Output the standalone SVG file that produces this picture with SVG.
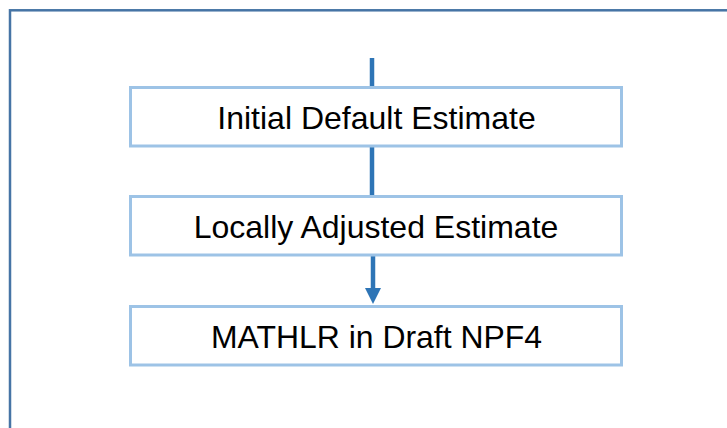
<svg xmlns="http://www.w3.org/2000/svg" width="727" height="428" viewBox="0 0 727 428">
  <defs>
    <marker id="arrow" markerUnits="userSpaceOnUse" markerWidth="16" markerHeight="16" viewBox="0 0 16 16" refX="0" refY="8" orient="auto">
      <path d="M0,0 L16,8 L0,16 Z" fill="#2e75b6"/>
    </marker>
    <style>
      .frame { fill: none; stroke: #4674a5; stroke-width: 2.5; }
      .box { fill: #ffffff; stroke: #9dc3e6; stroke-width: 3; }
      .label { font-family: "Liberation Sans", Arial, sans-serif; font-size: 32px; fill: #000000; text-anchor: middle; }
      .link { stroke: #2e75b6; stroke-width: 4.5; fill: none; }
    </style>
  </defs>

  <rect width="727" height="428" fill="#ffffff"/>
  <!-- outer frame (continues past the right and bottom edges) -->
  <rect class="frame" x="10" y="10.3" width="760" height="460"/>

  <g id="connectors">
    <line class="link" x1="372" y1="58" x2="372" y2="88"/>
    <line class="link" x1="372" y1="145" x2="372" y2="197"/>
    <line class="link" x1="373" y1="255" x2="373" y2="288" marker-end="url(#arrow)"/>
  </g>

  <g id="initial-default">
    <rect class="box" x="130.5" y="87.5" width="491" height="58.5"/>
    <text class="label" x="376.5" y="128.5">Initial Default Estimate</text>
  </g>

  <g id="locally-adjusted">
    <rect class="box" x="130.5" y="196.5" width="491" height="58.5"/>
    <text class="label" x="376" y="237.5">Locally Adjusted Estimate</text>
  </g>

  <g id="mathlr">
    <rect class="box" x="130.5" y="306.5" width="491" height="58.5"/>
    <text class="label" x="376.5" y="347.5" textLength="331" lengthAdjust="spacingAndGlyphs">MATHLR in Draft NPF4</text>
  </g>
</svg>
